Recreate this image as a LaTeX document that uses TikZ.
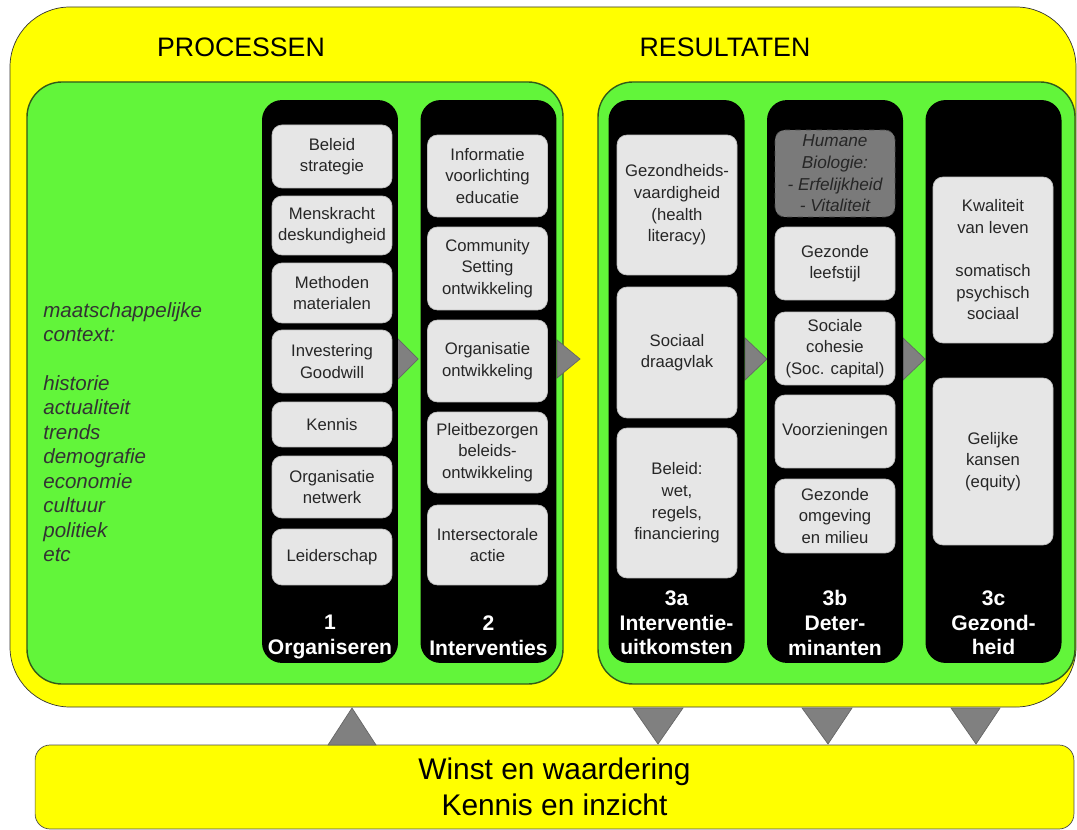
\documentclass[tikz,border=0pt]{standalone}
\usepackage{fontspec}
\setmainfont{Liberation Sans}

\definecolor{geel}{RGB}{255,255,0}
\definecolor{groen}{RGB}{98,245,58}
\definecolor{groenrand}{RGB}{50,90,25}
\definecolor{lichtgrijs}{RGB}{230,230,230}
\definecolor{donkergrijs}{RGB}{122,122,122}

\tikzset{
	kolom/.style={fill=black, rounded corners=0.4cm,
				  minimum width=2.72cm, minimum height=11.26cm},
	blok/.style={fill=lichtgrijs, draw=black!25, rounded corners=0.2cm,
				 minimum width=2.4cm, align=center, inner sep=1pt,
				 text=black!85,
				 font=\fontsize{9.5}{12.3}\selectfont},
	kop/.style={text=white, align=center, anchor=north, inner sep=0pt,
				font=\bfseries\fontsize{12}{14.2}\selectfont},
	pijl/.style={fill=gray, draw=black!60},
}

\begin{document}
\begin{tikzpicture}[x=0.02cm, y=-0.02cm]
	\useasboundingbox (0,0) rectangle (1077,830);

	% achtergrond
	\draw [fill=geel, draw=black!80, rounded corners=1.2cm] (10,7) rectangle (1076,707);
	\draw [fill=groen, draw=groenrand, line width=0.8pt, rounded corners=0.7cm] (27,82) rectangle (563,684);
	\draw [fill=groen, draw=groenrand, line width=0.8pt, rounded corners=0.7cm] (598,82) rectangle (1075,684);

	\draw (241,47) node[font=\fontsize{15.2}{18}\selectfont](processen){PROCESSEN};
	\draw (725,47) node[font=\fontsize{15.2}{18}\selectfont](resultaten){RESULTATEN};

	\draw (43,302) node[anchor=north west, inner sep=0pt, align=left,
					   text=black!80,
					   font=\itshape\fontsize{11.7}{13.9}\selectfont](context){maatschappelijke\\
		context:\\[13.9pt]
		historie\\actualiteit\\trends\\demografie\\economie\\cultuur\\politiek\\etc};

	% pijlen tussen de kolommen
	\draw [pijl] (397,338) -- (418,359) -- (397,380) -- cycle;
	\draw [pijl] (557,340) -- (580,359) -- (557,378) -- cycle;
	\draw [pijl] (745,338) -- (767,359) -- (745,380) -- cycle;
	\draw [pijl] (903,338) -- (925,359) -- (903,380) -- cycle;

	% kolom 1
	\draw (330,381.5) node[kolom](c1){};
	\draw (332,156.5) node[blok, minimum height=1.26cm](b1){Beleid\\strategie};
	\draw (332,225.5) node[blok, minimum height=1.18cm](b2){Menskracht\\deskundigheid};
	\draw (332,293) node[blok, minimum height=1.2cm](b3){Methoden\\materialen};
	\draw (332,361.5) node[blok, minimum height=1.26cm](b4){Investering\\Goodwill};
	\draw (332,424.5) node[blok, minimum height=0.9cm](b5){Kennis};
	\draw (332,487) node[blok, minimum height=1.24cm](b6){Organisatie\\netwerk};
	\draw (332,557) node[blok, minimum height=1.12cm](b7){Leiderschap};
	\draw (330,615) node[kop](k1){1\\Organiseren};

	% kolom 2
	\draw (488.5,381.5) node[kolom](c2){};
	\draw (487.5,176) node[blok, minimum height=1.64cm](i1){Informatie\\voorlichting\\educatie};
	\draw (487.5,268.5) node[blok, minimum height=1.66cm](i2){Community\\Setting\\ontwikkeling};
	\draw (487.5,361) node[blok, minimum height=1.64cm](i3){Organisatie\\ontwikkeling};
	\draw (487.5,452.5) node[blok, minimum height=1.62cm](i4){Pleitbezorgen\\beleids-\\ontwikkeling};
	\draw (487.5,545) node[blok, minimum height=1.6cm](i5){Intersectorale\\actie};
	\draw (488.5,615) node[kop](k2){2\\Interventies};

	% kolom 3a
	\draw (676.5,381.5) node[kolom](c3a){};
	\draw (677,205) node[blok, minimum height=2.8cm](u1){Gezondheids-\\vaardigheid\\(health\\literacy)};
	\draw (677,352.5) node[blok, minimum height=2.62cm](u2){Sociaal\\draagvlak};
	\draw (677,503) node[blok, minimum height=3cm](u3){Beleid:\\wet,\\regels,\\financiering};
	\draw (676.5,590) node[kop](k3a){3a\\Interventie-\\uitkomsten};

	% kolom 3b
	\draw (835,381.5) node[kolom](c3b){};
	\draw (835,173.5) node[blok, minimum height=1.74cm,
						   fill=donkergrijs, draw=black!70, dashed,
						   text=black!85,
						   font=\itshape\fontsize{9.8}{12.3}\selectfont](d0){Humane\\Biologie:\\- Erfelijkheid\\- Vitaliteit};
	\draw (835,263.5) node[blok, minimum height=1.46cm](d1){Gezonde\\leefstijl};
	\draw (835,348.5) node[blok, minimum height=1.46cm](d2){Sociale\\cohesie\\(Soc. capital)};
	\draw (835,431.5) node[blok, minimum height=1.46cm](d3){Voorzieningen};
	\draw (835,516) node[blok, minimum height=1.48cm](d4){Gezonde\\omgeving\\en milieu};
	\draw (835,590) node[kop](k3b){3b\\Deter-\\minanten};

	% kolom 3c
	\draw (993.5,381.5) node[kolom](c3c){};
	\draw (993,260) node[blok, minimum height=3.32cm](g1){Kwaliteit\\van leven\\[12.3pt]somatisch\\psychisch\\sociaal};
	\draw (993,461.5) node[blok, minimum height=3.34cm](g2){Gelijke\\kansen\\(equity)};
	\draw (993.5,590) node[kop](k3c){3c\\Gezond-\\heid};

	% onderkant
	\draw (554.5,787) node[fill=geel, draw=black!70, rounded corners=0.3cm,
						   minimum width=20.78cm, minimum height=1.68cm,
						   align=center,
						   font=\fontsize{17}{20.4}\selectfont](winst){Winst en waardering\\Kennis en inzicht};
	\draw [pijl] (328,745) -- (352,708) -- (376,745) -- cycle;
	\draw [pijl] (633,708) -- (658,744) -- (683,708) -- cycle;
	\draw [pijl] (802,708) -- (828,744) -- (852,708) -- cycle;
	\draw [pijl] (951,708) -- (976,744) -- (1000,708) -- cycle;
\end{tikzpicture}
\end{document}
